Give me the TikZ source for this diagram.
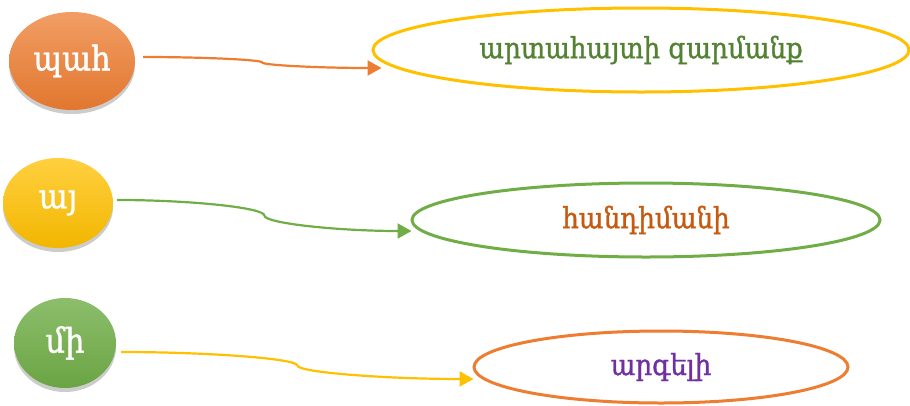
\documentclass[tikz,border=0pt]{standalone}
\usepackage{fontspec}
\newfontfamily\armfont[FakeBold=1.2]{DejaVu Serif Condensed}
\usetikzlibrary{arrows.meta, calc, shapes.geometric, shadows}
\definecolor{offorange}{HTML}{ED7D31}
\definecolor{offyellow}{HTML}{FFC000}
\definecolor{offgreen}{HTML}{70AD47}
\definecolor{darkgreen}{HTML}{548235}
\definecolor{brownorange}{HTML}{C55A11}
\definecolor{offpurple}{HTML}{7030A0}

\begin{document}
\begin{tikzpicture}[
    x=1pt, y=-1pt,
    word/.style={ellipse, inner sep=0pt, text=white, font=\armfont\fontsize{34}{36}\selectfont,
        drop shadow={shadow xshift=0pt, shadow yshift=-4pt, opacity=0.2, fill=black}},
    meaning/.style={ellipse, draw, line width=3pt, inner sep=0pt, font=\armfont\fontsize{29}{31}\selectfont},
    arrow/.style={line width=2.2pt, -{Triangle[length=14pt, width=15pt]}}
]
    \useasboundingbox (0,0) rectangle (910,405);

    % բառեր
    \node[word, minimum width=126pt, minimum height=98pt, top color=offorange!75, bottom color=offorange!95!black] (pah) at (72,61) {պահ};
    \node[word, minimum width=110pt, minimum height=90pt, top color=offyellow!75, bottom color=offyellow!95!black] (ay) at (58,203) {այ};
    \node[word, minimum width=102pt, minimum height=90pt, top color=offgreen!80, bottom color=offgreen!95!black] (mi) at (65,343) {մի};

    % իմաստներ
    \node[meaning, draw=offyellow, text=darkgreen, minimum width=536pt, minimum height=84pt] (zarmanq) at (641,50) {արտահայտի զարմանք};
    \node[meaning, draw=offgreen, text=brownorange, minimum width=468pt, minimum height=74pt] (handimani) at (646,220) {հանդիմանի};
    \node[meaning, draw=offorange, text=offpurple, minimum width=374pt, minimum height=72pt] (argeli) at (661,367) {արգելի};

    % սլաքներ
    \coordinate (s1) at ($(pah.east)+(8,-4)$);
    \coordinate (t1) at ($(zarmanq.west)+(10,18)$);
    \coordinate (m1) at ($(s1)!.5!(t1)$);
    \draw[arrow, offorange] (s1) .. controls ($(s1)!.5!(m1|-s1)$) and ($(m1)!.5!(m1|-s1)$) .. (m1)
        .. controls ($(m1)!.5!(m1|-t1)$) and ($(m1|-t1)!.5!(t1)$) .. (t1);

    \coordinate (s2) at ($(ay.east)+(4,-3)$);
    \coordinate (t2) at ($(handimani.west)+(1,11)$);
    \coordinate (m2) at ($(s2)!.5!(t2)$);
    \draw[arrow, offgreen] (s2) .. controls ($(s2)!.5!(m2|-s2)$) and ($(m2)!.5!(m2|-s2)$) .. (m2)
        .. controls ($(m2)!.5!(m2|-t2)$) and ($(m2|-t2)!.5!(t2)$) .. (t2);

    \coordinate (s3) at ($(mi.east)+(5,9)$);
    \coordinate (t3) at ($(argeli.west)+(1,12)$);
    \coordinate (m3) at ($(s3)!.5!(t3)$);
    \draw[arrow, offyellow] (s3) .. controls ($(s3)!.5!(m3|-s3)$) and ($(m3)!.5!(m3|-s3)$) .. (m3)
        .. controls ($(m3)!.5!(m3|-t3)$) and ($(m3|-t3)!.5!(t3)$) .. (t3);
\end{tikzpicture}
\end{document}
